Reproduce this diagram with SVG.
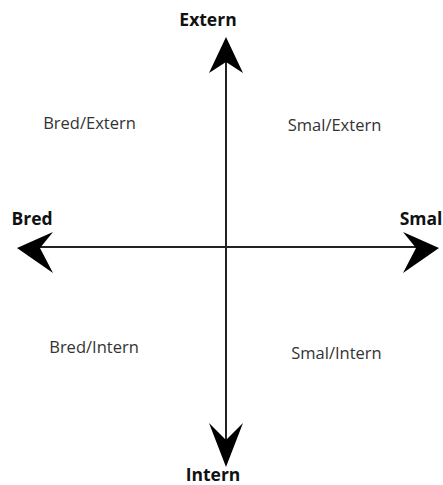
<svg xmlns="http://www.w3.org/2000/svg" width="443" height="485" viewBox="0 0 443 485">
<style>
.ax{stroke:#222;stroke-width:2;fill:none}
.hd{fill:#000}
.lb{font-family:"Open Sans",sans-serif;font-weight:bold;font-size:17.5px;fill:#111}
.q{font-family:"Open Sans",sans-serif;font-size:16.5px;fill:#333}
</style>
<rect width="443" height="485" fill="#fff"/>
<g id="connectors">
<line class="ax" x1="226" y1="60" x2="226" y2="444"/>
<line class="ax" x1="40" y1="247" x2="416" y2="247"/>
<path class="hd" d="M226,37 L243,73 L226,62 L209,73 Z"/>
<path class="hd" d="M226,467 L243,423 L226,440 L209,423 Z"/>
<path class="hd" d="M17,248 L53,232 L40,248 L53,273 Z"/>
<path class="hd" d="M439,248 L403,232 L416,248 L403,273 Z"/>
</g>
<g id="extern"><text class="lb" x="208" y="26" text-anchor="middle">Extern</text></g>
<g id="intern"><text class="lb" x="213" y="481" text-anchor="middle">Intern</text></g>
<g id="bred"><text class="lb" x="32" y="225" text-anchor="middle">Bred</text></g>
<g id="smal"><text class="lb" x="421" y="225" text-anchor="middle">Smal</text></g>
<g id="bred-extern"><text class="q" x="89.5" y="129" text-anchor="middle">Bred/Extern</text></g>
<g id="smal-extern"><text class="q" x="334.5" y="131" text-anchor="middle">Smal/Extern</text></g>
<g id="bred-intern"><text class="q" x="94" y="353" text-anchor="middle">Bred/Intern</text></g>
<g id="smal-intern"><text class="q" x="336.5" y="359" text-anchor="middle">Smal/Intern</text></g>
</svg>
